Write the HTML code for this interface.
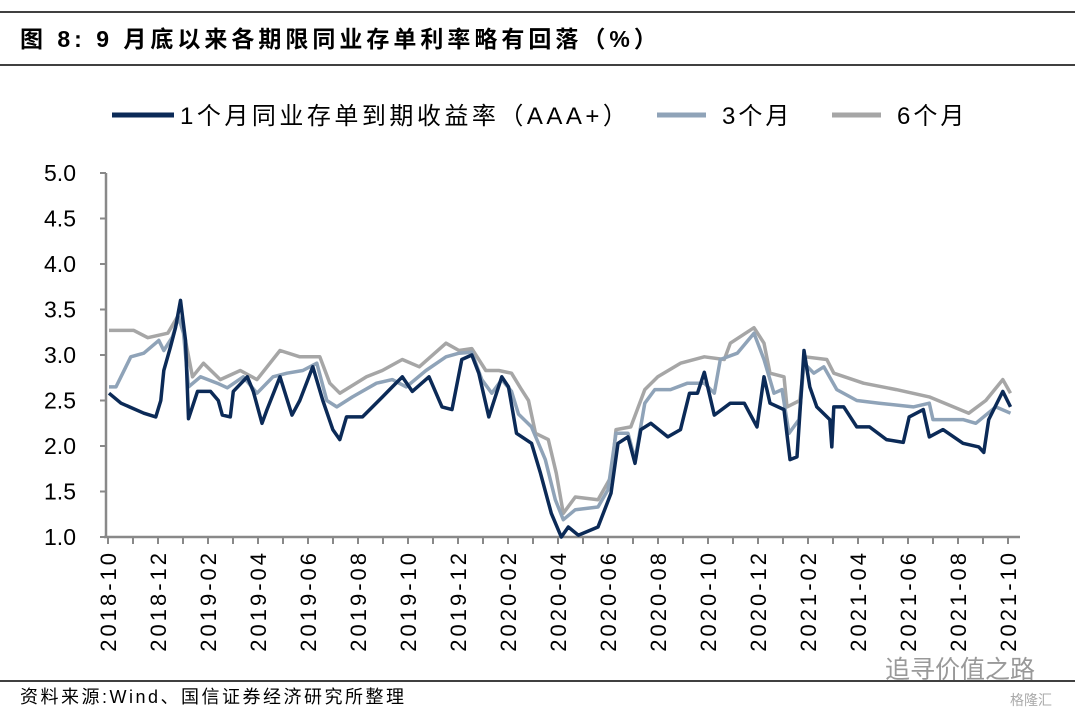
<!DOCTYPE html>
<html><head><meta charset="utf-8">
<style>
body{margin:0;background:#fff;}
svg text{font-family:"Liberation Sans","Noto Sans CJK SC",sans-serif;}
</style></head>
<body>
<svg id="chart" width="1075" height="718" viewBox="0 0 1075 718" xmlns="http://www.w3.org/2000/svg">
<line x1="0" y1="12" x2="1075" y2="12" stroke="#000" stroke-width="1.5"/>
<text x="20" y="47" font-size="23" font-weight="bold" fill="#000" letter-spacing="4">图 8:  9 月底以来各期限同业存单利率略有回落（%）</text>
<line x1="0" y1="65" x2="1075" y2="65" stroke="#000" stroke-width="1.5"/>
<g>
<g><line x1="112" y1="115" x2="174" y2="115" stroke="#0B2A57" stroke-width="5"/><text x="180" y="124" font-size="24" fill="#000" letter-spacing="3.5">1个月同业存单到期收益率（AAA+）</text></g>
<g><line x1="657" y1="115" x2="706" y2="115" stroke="#8FA3B8" stroke-width="5"/><text x="722" y="124" font-size="24" fill="#000" letter-spacing="3">3个月</text></g>
<g><line x1="832" y1="115" x2="881" y2="115" stroke="#A6A6A6" stroke-width="5"/><text x="897" y="124" font-size="24" fill="#000" letter-spacing="3">6个月</text></g>
</g>
<g id="axes"></g>
<g id="series"></g>
<line x1="0" y1="681" x2="1075" y2="681" stroke="#000" stroke-width="1.5"/>
<text x="20" y="703" font-size="18" fill="#000" letter-spacing="2.5">资料来源:Wind、国信证券经济研究所整理</text>
<text x="885" y="678" font-size="25" fill="#999">追寻价值之路</text>
<text x="1010" y="705" font-size="14" fill="#aaa">格隆汇</text>
</svg>
<script>
const tickLabels=["2018-10","2018-12","2019-02","2019-04","2019-06","2019-08","2019-10","2019-12","2020-02","2020-04","2020-06","2020-08","2020-10","2020-12","2021-02","2021-04","2021-06","2021-08","2021-10"];
const yTicks=[1.0,1.5,2.0,2.5,3.0,3.5,4.0,4.5,5.0];
// [months since 2018-10, value]
const series1M=[[0.04,2.58],[0.52,2.47],[1.43,2.36],[1.91,2.32],[2.11,2.5],[2.23,2.83],[2.5,3.09],[2.7,3.3],[2.9,3.6],[3.1,3.16],[3.22,2.3],[3.58,2.6],[4.1,2.6],[4.41,2.5],[4.57,2.34],[4.89,2.32],[5.01,2.6],[5.57,2.76],[5.81,2.6],[6.16,2.25],[6.36,2.4],[6.88,2.76],[7.36,2.34],[7.67,2.5],[8.19,2.87],[8.59,2.5],[8.99,2.18],[9.27,2.07],[9.54,2.32],[10.18,2.32],[10.98,2.54],[11.37,2.65],[11.77,2.76],[12.17,2.6],[12.84,2.76],[13.36,2.43],[13.76,2.4],[14.15,2.95],[14.55,3.0],[14.83,2.8],[15.23,2.32],[15.75,2.76],[16.02,2.65],[16.34,2.14],[16.94,2.03],[17.3,1.7],[17.73,1.26],[18.13,1.0],[18.41,1.11],[18.81,1.02],[19.6,1.11],[20.12,1.48],[20.4,2.03],[20.8,2.1],[21.08,1.81],[21.31,2.18],[21.71,2.25],[22.39,2.1],[22.9,2.18],[23.26,2.58],[23.58,2.58],[23.85,2.81],[24.25,2.34],[24.89,2.47],[25.45,2.47],[25.96,2.21],[26.24,2.76],[26.48,2.47],[27.04,2.4],[27.28,1.85],[27.56,1.88],[27.84,3.05],[28.07,2.65],[28.35,2.43],[28.87,2.29],[28.95,1.99],[29.03,2.43],[29.43,2.43],[29.95,2.21],[30.46,2.21],[31.14,2.07],[31.81,2.04],[32.05,2.32],[32.61,2.4],[32.85,2.1],[33.4,2.18],[34.2,2.03],[34.83,1.99],[35.03,1.93],[35.23,2.29],[35.79,2.6],[36.1,2.43]];
const series3M=[[0.04,2.65],[0.32,2.65],[0.91,2.98],[1.43,3.02],[2.03,3.16],[2.23,3.05],[2.58,3.2],[2.82,3.42],[3.02,3.24],[3.22,2.65],[3.7,2.76],[4.37,2.69],[4.77,2.64],[5.41,2.76],[5.96,2.58],[6.6,2.76],[7.16,2.8],[7.79,2.83],[8.35,2.91],[8.75,2.5],[9.15,2.43],[9.78,2.54],[10.74,2.69],[11.37,2.73],[11.93,2.65],[12.72,2.83],[13.52,2.98],[14.04,3.02],[14.55,3.03],[14.95,2.73],[15.35,2.58],[15.75,2.73],[16.14,2.6],[16.42,2.35],[16.94,2.21],[17.49,1.85],[17.89,1.41],[18.21,1.19],[18.69,1.3],[19.6,1.33],[20.0,1.52],[20.32,2.14],[20.8,2.14],[21.08,1.85],[21.47,2.47],[21.87,2.62],[22.5,2.62],[23.18,2.69],[23.85,2.69],[24.25,2.58],[24.49,2.95],[25.17,3.02],[25.84,3.24],[26.24,2.95],[26.64,2.58],[26.96,2.62],[27.24,2.14],[27.64,2.29],[27.84,2.91],[28.23,2.8],[28.63,2.87],[29.15,2.62],[29.95,2.5],[30.85,2.47],[32.21,2.43],[32.85,2.47],[33.0,2.29],[34.2,2.29],[34.71,2.25],[35.51,2.43],[36.1,2.36]];
const series6M=[[0.04,3.27],[1.03,3.27],[1.59,3.19],[2.39,3.24],[2.78,3.42],[3.02,3.27],[3.38,2.76],[3.82,2.91],[4.49,2.73],[5.29,2.83],[5.96,2.73],[6.88,3.05],[7.67,2.98],[8.47,2.98],[8.87,2.69],[9.27,2.58],[10.34,2.76],[10.97,2.83],[11.77,2.95],[12.45,2.87],[13.52,3.13],[14.04,3.05],[14.55,3.07],[15.11,2.83],[15.63,2.83],[16.14,2.8],[16.54,2.62],[16.82,2.5],[17.1,2.14],[17.61,2.07],[17.93,1.7],[18.21,1.26],[18.69,1.44],[19.6,1.41],[20.12,1.66],[20.32,2.18],[20.91,2.21],[21.47,2.62],[21.99,2.76],[22.9,2.91],[23.85,2.98],[24.65,2.95],[24.89,3.13],[25.84,3.3],[26.24,3.13],[26.48,2.8],[27.04,2.76],[27.16,2.43],[27.67,2.5],[27.87,2.98],[28.75,2.95],[29.03,2.8],[30.22,2.69],[31.53,2.62],[32.85,2.54],[34.43,2.36],[35.11,2.5],[35.79,2.73],[36.1,2.58]];

const NS="http://www.w3.org/2000/svg";
const X0=108,XM=25.0,Y0=537,YU=91;
function xs(m){return X0+m*XM;}
function ys(v){return Y0-(v-1)*YU;}
const axes=document.getElementById('axes');
function mk(tag,attrs,parent){const e=document.createElementNS(NS,tag);for(const k in attrs)e.setAttribute(k,attrs[k]);parent.appendChild(e);return e;}
const yl=mk('line',{x1:106,y1:ys(5),x2:106,y2:Y0,stroke:'#898989','stroke-width':2.5},axes);


const xl=mk('line',{x1:104,y1:Y0,x2:1020,y2:Y0,stroke:'#898989','stroke-width':2.5},axes);


yTicks.forEach(v=>{
  const t=mk('line',{x1:100,y1:ys(v),x2:106,y2:ys(v),stroke:'#898989','stroke-width':2},axes);
  
  
  const l=mk('text',{x:76,y:ys(v)+8,'font-size':23,'text-anchor':'end',fill:'#000'},axes);
  l.textContent=v.toFixed(1);
  
  
});
for(let m=0;m<=36;m++){
  const t=mk('line',{x1:xs(m),y1:Y0,x2:xs(m),y2:Y0+7,stroke:'#898989','stroke-width':2},axes);
  
  
}
tickLabels.forEach((s,i)=>{
  const x=xs(i*2)+8,y=550;
  const l=mk('text',{x:x,y:y,'font-size':22,'letter-spacing':3,'text-anchor':'end',fill:'#000',transform:`rotate(-90 ${x} ${y})`},axes);
  l.textContent=s;
  
  
});
const sg=document.getElementById('series');
function draw(data,color,name){
  const d=data.map((p,i)=>(i?'L':'M')+xs(p[0]).toFixed(1)+' '+ys(p[1]).toFixed(1)).join(' ');
  const p=mk('path',{d:d,fill:'none',stroke:color,'stroke-width':3.5,'stroke-linejoin':'round'},sg);
  
  
}
draw(series6M,'#A6A6A6','line-6m');
draw(series3M,'#8FA3B8','line-3m');
draw(series1M,'#0B2A57','line-1m');
</script>
</body></html>
